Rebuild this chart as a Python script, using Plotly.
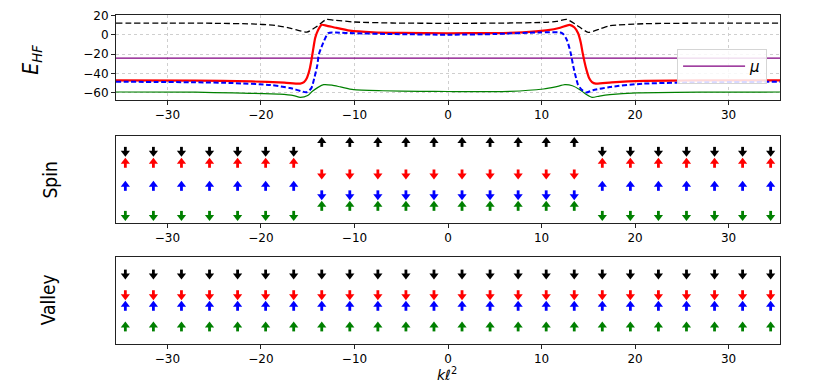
import plotly.graph_objects as go

# ---------------- data: top panel (HF energies) ----------------
k_black = [-35.5, -30, -25, -21, -18.5, -16.8, -15.1, -14.0, -13.0, -12.2, -10.0, -6.0, 0, 6.0, 10.2, 11.6, 12.7, 13.8, 15.0, 16.3, 17.3, 20.9, 27, 35.5]
e_black = [12.4, 12.3, 12.2, 11.5, 10.0, 7.0, 3.0, 9.0, 16.2, 15.5, 13.5, 12.5, 12.1, 12.4, 13.1, 14.2, 16.3, 10.0, 2.8, 6.5, 9.6, 11.7, 12.3, 12.4]

k_red = [-35.5, -27, -21, -17.5, -15.8, -15.4, -15.1, -14.8, -14.6, -14.4, -14.2, -13.9, -13.5, -13.0, -12.0, -10.5, -8.0, -5.0, 0,
         5.0, 8.0, 10.5, 12.0, 13.0, 13.5, 13.9, 14.2, 14.4, 14.6, 14.8, 15.1, 15.4, 15.8, 17.5, 21, 27, 35.5]
e_red = [-47.2, -47.5, -48.3, -49.5, -50.6, -49.0, -45.0, -36.0, -26.0, -14.0, -3.0, 5.0, 10.6, 9.8, 7.5, 4.5, 2.8, 2.2, 1.8,
         2.0, 2.7, 4.8, 7.5, 10.6, 8.0, 2.0, -8.0, -18.8, -28.0, -36.0, -45.0, -49.0, -50.6, -49.3, -47.8, -47.3, -47.2]

k_blue = [-35.5, -27, -23, -19, -16.9, -15.1, -14.6, -14.3, -14.0, -13.8, -13.5, -12.8, -12.0, -10.0, -6.0, 0,
          5.0, 9.8, 12.2, 12.7, 13.1, 13.4, 13.7, 13.9, 14.3, 14.8, 15.5, 17.3, 20.9, 27, 35.5]
e_blue = [-48.6, -49.2, -50.0, -52.0, -55.1, -59.5, -55.0, -45.0, -32.7, -20.0, -11.9, 2.0, 2.5, 1.8, 1.0, 0.3,
          1.0, 2.7, 2.0, -4.9, -18.0, -32.7, -45.0, -51.7, -57.0, -59.7, -57.5, -54.1, -50.6, -49.3, -48.6]

k_green = [-35.5, -27, -23, -18, -16.5, -15.8, -15.0, -14.5, -13.9, -13.3, -12.4, -11.5, -10.1, -7.0, -3.0, 0,
           6.6, 10.2, 11.5, 12.5, 13.3, 14.1, 14.8, 15.4, 16.2, 17.3, 20.2, 27, 35.5]
e_green = [-59.3, -59.5, -60.3, -61.5, -63.0, -64.9, -63.0, -58.6, -54.5, -51.7, -52.2, -54.0, -56.9, -58.0, -58.6, -58.8,
           -58.6, -56.2, -54.0, -51.7, -52.8, -56.9, -62.0, -64.9, -63.5, -62.1, -60.3, -59.5, -59.3]

k_mu = [-35.5, 35.5]
e_mu = [-24.0, -24.0]

# ---------------- data: arrows (spin / valley) ----------------
k_arrows = [-34.5, -31.5, -28.5, -25.5, -22.5, -19.5, -16.5, -13.5, -10.5, -7.5, -4.5, -1.5,
            1.5, 4.5, 7.5, 10.5, 13.5, 16.5, 19.5, 22.5, 25.5, 28.5, 31.5, 34.5]

spin_black_dir = [-1, -1, -1, -1, -1, -1, -1, 1, 1, 1, 1, 1, 1, 1, 1, 1, 1, -1, -1, -1, -1, -1, -1, -1]
spin_black_y = [0.82, 0.82, 0.82, 0.82, 0.82, 0.82, 0.82, 0.93, 0.93, 0.93, 0.93, 0.93, 0.93, 0.93, 0.93, 0.93, 0.93, 0.82, 0.82, 0.82, 0.82, 0.82, 0.82, 0.82]
spin_red_dir = [1, 1, 1, 1, 1, 1, 1, -1, -1, -1, -1, -1, -1, -1, -1, -1, -1, 1, 1, 1, 1, 1, 1, 1]
spin_red_y = [0.69, 0.69, 0.69, 0.69, 0.69, 0.69, 0.69, 0.56, 0.56, 0.56, 0.56, 0.56, 0.56, 0.56, 0.56, 0.56, 0.56, 0.69, 0.69, 0.69, 0.69, 0.69, 0.69, 0.69]
spin_blue_dir = [1, 1, 1, 1, 1, 1, 1, -1, -1, -1, -1, -1, -1, -1, -1, -1, -1, 1, 1, 1, 1, 1, 1, 1]
spin_blue_y = [0.425, 0.425, 0.425, 0.425, 0.425, 0.425, 0.425, 0.32, 0.32, 0.32, 0.32, 0.32, 0.32, 0.32, 0.32, 0.32, 0.32, 0.425, 0.425, 0.425, 0.425, 0.425, 0.425, 0.425]
spin_green_dir = [-1, -1, -1, -1, -1, -1, -1, 1, 1, 1, 1, 1, 1, 1, 1, 1, 1, -1, -1, -1, -1, -1, -1, -1]
spin_green_y = [0.084, 0.084, 0.084, 0.084, 0.084, 0.084, 0.084, 0.195, 0.195, 0.195, 0.195, 0.195, 0.195, 0.195, 0.195, 0.195, 0.195, 0.084, 0.084, 0.084, 0.084, 0.084, 0.084, 0.084]

valley_black_dir = [-1] * 24
valley_black_y = [0.80] * 24
valley_red_dir = [-1] * 24
valley_red_y = [0.563] * 24
valley_blue_dir = [1] * 24
valley_blue_y = [0.437] * 24
valley_green_dir = [1] * 24
valley_green_y = [0.20] * 24

tick_vals_x = [-30, -20, -10, 0, 10, 20, 30]
tick_vals_y = [-60, -40, -20, 0, 20]

# ---------------- styling ----------------
C_BLACK, C_RED, C_BLUE, C_GREEN, C_PURPLE = "#000000", "#ff0000", "#0000ff", "#008000", "#800080"
TICKFONT = dict(family="DejaVu Sans", size=12, color="black")
LABELFONT = "Liberation Sans Narrow, DejaVu Sans Condensed, Liberation Sans, sans-serif"
PX = 1.0 / 87.0  # one pixel in arrow-panel data units

fig = go.Figure()

def add_curve(k, e, color, width, dash):
    fig.add_trace(go.Scatter(x=k, y=e, mode="lines", showlegend=False, hoverinfo="skip",
                             line=dict(color=color, width=width, dash=dash, shape="spline", smoothing=0.6),
                             xaxis="x", yaxis="y"))

add_curve(k_black, e_black, C_BLACK, 1.3, "6px,3px")
add_curve(k_green, e_green, C_GREEN, 1.2, "solid")
fig.add_trace(go.Scatter(x=k_mu, y=e_mu, mode="lines", name="<i>μ</i>",
                         line=dict(color=C_PURPLE, width=1.3), xaxis="x", yaxis="y"))
add_curve(k_red, e_red, C_RED, 2.2, "solid")
add_curve(k_blue, e_blue, C_BLUE, 2.0, "5px,2.5px")

def add_arrows(dirs, ys, color, xa, ya):
    sx, sy, hx, hy, sym = [], [], [], [], []
    for k, d, y in zip(k_arrows, dirs, ys):
        sx += [k, k, None]
        sy += [y - d * 4.8 * PX, y + d * 0.5 * PX, None]
        hx.append(k)
        hy.append(y + d * 1.2 * PX)
        sym.append("triangle-up" if d > 0 else "triangle-down")
    fig.add_trace(go.Scatter(x=sx, y=sy, mode="lines", showlegend=False, hoverinfo="skip",
                             line=dict(color=color, width=2.8), xaxis=xa, yaxis=ya))
    fig.add_trace(go.Scatter(x=hx, y=hy, mode="markers", showlegend=False, hoverinfo="skip",
                             marker=dict(symbol=sym, size=8, color=color, line=dict(width=0)),
                             xaxis=xa, yaxis=ya))

add_arrows(spin_black_dir, spin_black_y, C_BLACK, "x2", "y2")
add_arrows(spin_red_dir, spin_red_y, C_RED, "x2", "y2")
add_arrows(spin_blue_dir, spin_blue_y, C_BLUE, "x2", "y2")
add_arrows(spin_green_dir, spin_green_y, C_GREEN, "x2", "y2")
add_arrows(valley_black_dir, valley_black_y, C_BLACK, "x3", "y3")
add_arrows(valley_red_dir, valley_red_y, C_RED, "x3", "y3")
add_arrows(valley_blue_dir, valley_blue_y, C_BLUE, "x3", "y3")
add_arrows(valley_green_dir, valley_green_y, C_GREEN, "x3", "y3")

xcommon = dict(range=[-35.5, 35.5], tickvals=tick_vals_x, ticks="outside", ticklen=4, tickcolor="#222",
               tickfont=TICKFONT, showline=True, linecolor="#222", linewidth=1, mirror=True,
               zeroline=False, domain=[0, 1])
ycommon = dict(showline=True, linecolor="#222", linewidth=1, mirror=True, zeroline=False)

# the page places the figure 8px in from the top-left corner, so margins are offset by 8px
fig.update_layout(
    width=830, height=382,
    margin=dict(l=108, r=58, t=7, b=46, autoexpand=False),
    paper_bgcolor="white", plot_bgcolor="white",
    xaxis=dict(**xcommon, anchor="y", showgrid=True, gridcolor="#cfcfcf", griddash="dot", gridwidth=1),
    yaxis=dict(**ycommon, domain=[0.742, 1.0], anchor="x", range=[-67.5, 20.8], tickvals=tick_vals_y,
               ticks="outside", ticklen=4, tickcolor="#222", tickfont=TICKFONT,
               showgrid=True, gridcolor="#cfcfcf", griddash="dot", gridwidth=1),
    xaxis2=dict(**xcommon, anchor="y2", showgrid=False),
    yaxis2=dict(**ycommon, domain=[0.3678, 0.6322], anchor="x2", range=[0, 1], showticklabels=False,
                ticks="", showgrid=False),
    xaxis3=dict(**xcommon, anchor="y3", showgrid=False),
    yaxis3=dict(**ycommon, domain=[0.0, 0.2644], anchor="x3", range=[0, 1], showticklabels=False,
                ticks="", showgrid=False),
    showlegend=True,
    legend=dict(x=0.845, y=0.897, xanchor="left", yanchor="top", bgcolor="rgba(255,255,255,0.85)",
                bordercolor="#d5d5d5", borderwidth=1, font=dict(family="DejaVu Sans", size=15, color="black"),
                itemwidth=62),
    annotations=[
        dict(text="<i>E<sub>HF</sub></i>", xref="paper", yref="paper", x=-0.126, y=0.865, showarrow=False,
             textangle=-90, xanchor="center", yanchor="middle", font=dict(family=LABELFONT, size=21, color="black")),
        dict(text="Spin", xref="paper", yref="paper", x=-0.0994, y=0.50, showarrow=False,
             textangle=-90, xanchor="center", yanchor="middle", font=dict(family=LABELFONT, size=19, color="black")),
        dict(text="Valley", xref="paper", yref="paper", x=-0.102, y=0.134, showarrow=False,
             textangle=-90, xanchor="center", yanchor="middle", font=dict(family=LABELFONT, size=19, color="black")),
        dict(text="<i>kℓ</i><sup>2</sup>", xref="paper", yref="paper", x=0.499, y=-0.058, showarrow=False,
             xanchor="center", yanchor="top", font=dict(family="DejaVu Sans", size=14, color="black")),
    ],
)

fig.write_html("out.html")
